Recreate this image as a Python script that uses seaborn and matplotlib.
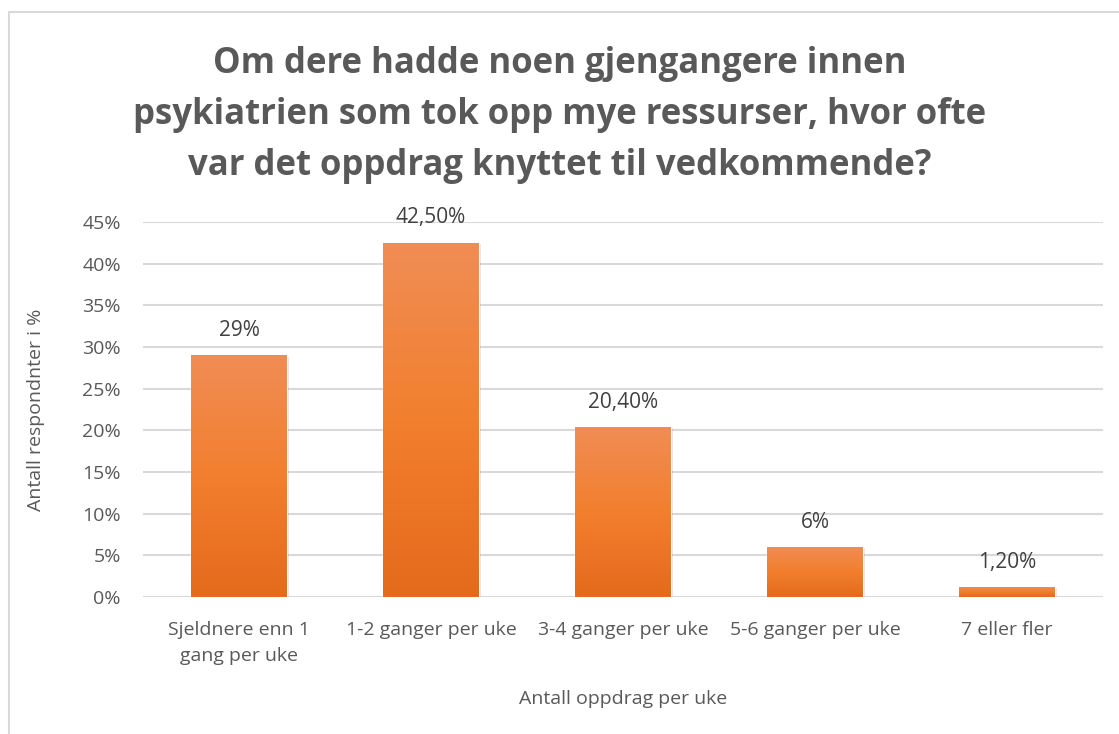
import numpy as np
import pandas as pd
import matplotlib
matplotlib.use("Agg")
import matplotlib.pyplot as plt
from matplotlib.patches import Rectangle
from matplotlib.colors import LinearSegmentedColormap
import seaborn as sns

# data
categories = ["Sjeldnere enn 1\ngang per uke", "1-2 ganger per uke", "3-4 ganger per uke",
              "5-6 ganger per uke", "7 eller fler"]
values = [29, 42.5, 20.4, 6, 1.2]
value_labels = ["29%", "42,50%", "20,40%", "6%", "1,20%"]
y_ticks = [0, 5, 10, 15, 20, 25, 30, 35, 40, 45]

df = pd.DataFrame({"kategori": categories, "andel": values})

sns.set_style("white")
plt.rcParams["font.family"] = ["Open Sans", "DejaVu Sans"]
grey = "#595959"

fig = plt.figure(figsize=(11.19, 7.34), dpi=100)
ax = fig.add_axes([0.1278, 0.1866, 0.8579, 0.5109])

sns.barplot(data=df, x="kategori", y="andel", color="#ED7D31", width=0.5,
            saturation=1, ax=ax, zorder=3)

# gradient fill on bars
cmap = LinearSegmentedColormap.from_list("og", ["#E56A1C", "#F27F2E", "#F08D55"])
for p in ax.patches:
    x0, y0 = p.get_x(), p.get_y()
    w, h = p.get_width(), p.get_height()
    # soft shadow
    ax.add_patch(Rectangle((x0 + 0.01, y0 - 0.15), w, h, facecolor="#000000",
                           alpha=0.12, edgecolor="none", zorder=2))
    grad = np.linspace(0, 1, 256).reshape(-1, 1)
    im = ax.imshow(grad, cmap=cmap, extent=[x0, x0 + w, y0, y0 + h],
                   origin="lower", aspect="auto", zorder=4)
    im.set_clip_path(p)

for i, (v, lab) in enumerate(zip(values, value_labels)):
    ax.text(i, v + 3.0, lab, ha="center", va="center", fontsize=15, color="#404040")

ax.set_xlim(-0.5, len(categories) - 0.5)
ax.set_ylim(0, 45)
ax.set_yticks(y_ticks)
ax.set_yticklabels([f"{t}%" for t in y_ticks])
ax.yaxis.grid(True, color="#D9D9D9", linewidth=1.5, zorder=0)
ax.set_axisbelow(True)
for s in ax.spines.values():
    s.set_visible(False)
ax.tick_params(axis="both", length=0, labelsize=14, labelcolor=grey)
ax.tick_params(axis="y", pad=16)
ax.tick_params(axis="x", pad=17)
for t in ax.get_xticklabels():
    t.set_linespacing(1.6)

ax.set_xlabel("Antall oppdrag per uke", fontsize=14, color=grey, labelpad=18)
ax.set_ylabel("Antall respondnter i %", fontsize=14, color=grey, labelpad=27)

fig.text(0.5, 0.843,
         "Om dere hadde noen gjengangere innen\n"
         "psykiatrien som tok opp mye ressurser, hvor ofte\n"
         "var det oppdrag knyttet til vedkommende?",
         ha="center", va="center", fontsize=25, fontweight="bold", color=grey,
         linespacing=1.55)

# light chart border
fig.patches.append(Rectangle((9 / 1119, -0.05), 1.1, 1 - 12 / 734 + 0.05,
                             transform=fig.transFigure, facecolor="none",
                             edgecolor="#D9D9D9", linewidth=1.5))

fig.savefig("out.png", dpi=100)
